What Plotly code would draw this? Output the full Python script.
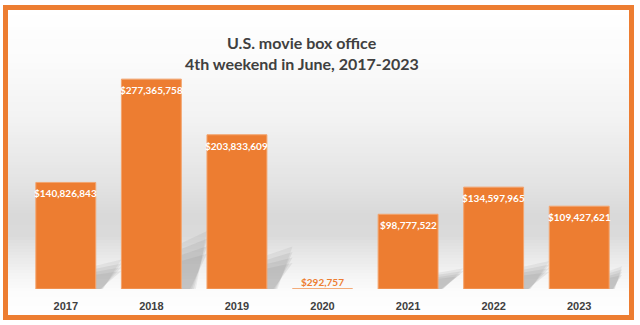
import plotly.graph_objects as go

# ---- data ----
years = ["2017", "2018", "2019", "2020", "2021", "2022", "2023"]
gross = [140826843, 277365758, 203833609, 292757, 98777522, 134597965, 109427621]
title_lines = ["U.S. movie box office", "4th weekend in June, 2017-2023"]

# ---- geometry helpers (figure pixels) ----
W, H = 640, 325
ML, MR, MT, MB = 23, 18, 62, 36
PW, PH = W - ML - MR, H - MT - MB
YMAX = 300e6
BAR_W = 0.7


def xp(px):
    return (px - ML) / PW


def yp(py):
    return (H - MB - py) / PH


def gray_at(py):
    pts = [(8, 255), (60, 251), (120, 242), (180, 228), (215, 217), (235, 218),
           (255, 232), (275, 244), (292, 252), (318, 255)]
    for (a, ga), (b, gb) in zip(pts[:-1], pts[1:]):
        if a <= py <= b:
            t = (py - a) / (b - a)
            return int(round(ga + (gb - ga) * t))
    return 255


shapes = []
# gradient background inside frame
step = 3
py = 9
while py < 316:
    g = gray_at(py + step / 2)
    shapes.append(dict(type="rect", xref="paper", yref="paper",
                       x0=xp(8), x1=xp(629), y0=yp(py + step), y1=yp(py),
                       fillcolor=f"rgb({g},{g},{g})", line=dict(width=0), layer="below"))
    py += step

# soft floor shadows behind each bar (computed from values)
px_per_x = PW / len(years)
for i, v in enumerate(gross):
    hpx = v / YMAX * PH
    if hpx < 3:
        continue
    xr = i + BAR_W / 2
    nxt_left = i + 1 - BAR_W / 2 if i < len(years) - 1 else len(years) - 0.5
    for s, a in [(1.15, 0.12), (1.0, 0.14), (0.85, 0.14), (0.7, 0.14)]:
        pts_px = [(0, 0), (0, 0.19 * hpx * s), (0.36 * hpx * s, 0.24 * hpx * s), (0.06 * hpx * s, 0)]
        pts = []
        for dx, dy in pts_px:
            x = min(xr + dx / px_per_x, nxt_left)
            y = dy / PH * YMAX
            pts.append((x, y))
        path = "M " + " L ".join(f"{x},{y}" for x, y in pts) + " Z"
        shapes.append(dict(type="path", xref="x", yref="y", path=path,
                           fillcolor=f"rgba(130,130,130,{a})", line=dict(width=0), layer="below"))

# orange frame
shapes.append(dict(type="rect", xref="paper", yref="paper",
                   x0=xp(5.5), x1=xp(631.5), y0=yp(317.5), y1=yp(7.5),
                   line=dict(color="#ED7D31", width=5), fillcolor="rgba(0,0,0,0)", layer="above"))

xs = list(range(len(years)))
fig = go.Figure()
fig.add_trace(go.Bar(
    x=xs, y=gross, width=BAR_W,
    marker=dict(color="#ED7D31", line=dict(color="#F3A46E", width=1)),
    hoverinfo="skip",
))

annotations = []
for i, v in enumerate(gross):
    label = f"${v:,.0f}"
    if v / YMAX * PH > 20:
        annotations.append(dict(x=i, y=v, xref="x", yref="y", text=f"<b>{label}</b>",
                                showarrow=False, yshift=-11, yanchor="middle",
                                font=dict(family="Lato", size=10, color="white")))
    else:
        annotations.append(dict(x=i, y=v, xref="x", yref="y", text=f"<b>{label}</b>",
                                showarrow=False, yshift=7, yanchor="middle",
                                font=dict(family="Lato", size=10, color="#ED7D31")))

annotations.append(dict(x=xp(302), y=yp(42), xref="paper", yref="paper",
                        text=f"<b>{title_lines[0]}</b>", showarrow=False,
                        xanchor="center", yanchor="middle",
                        font=dict(family="Lato", size=16, color="#404040")))
annotations.append(dict(x=xp(302), y=yp(64), xref="paper", yref="paper",
                        text=f"<b>{title_lines[1]}</b>", showarrow=False,
                        xanchor="center", yanchor="middle",
                        font=dict(family="Lato", size=16, color="#404040")))

fig.update_layout(
    width=W, height=H,
    margin=dict(l=ML, r=MR, t=MT, b=MB, pad=0),
    paper_bgcolor="white", plot_bgcolor="rgba(0,0,0,0)",
    showlegend=False,
    shapes=shapes, annotations=annotations,
    xaxis=dict(range=[-0.5, len(years) - 0.5], tickvals=xs, ticktext=years,
               showgrid=False, zeroline=False, showline=False,
               ticks="outside", ticklen=7, tickcolor="rgba(0,0,0,0)",
               tickfont=dict(family="Liberation Sans", size=11, color="#404040", weight="bold"),
               fixedrange=True),
    yaxis=dict(range=[0, YMAX], visible=False, fixedrange=True),
)

fig.write_html("out.html")
